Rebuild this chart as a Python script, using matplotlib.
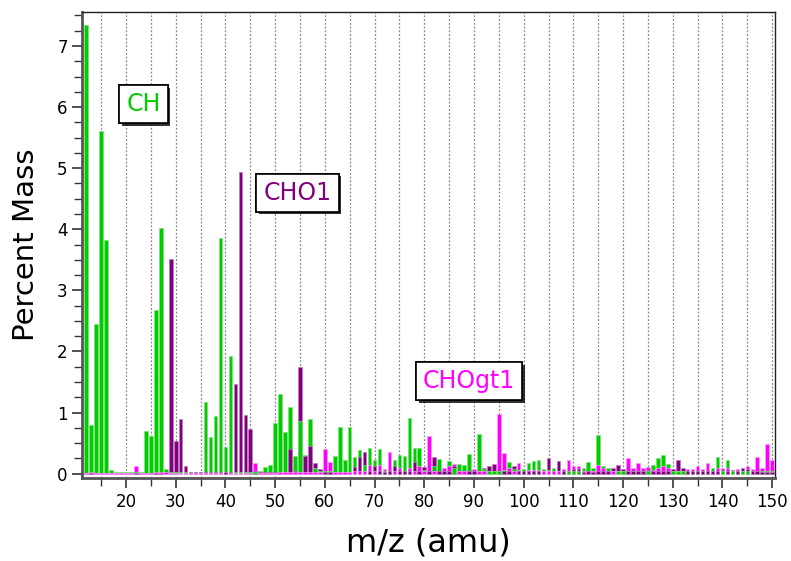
import matplotlib
matplotlib.use("Agg")
import matplotlib.pyplot as plt
import matplotlib.patheffects as pe
from matplotlib.ticker import MultipleLocator

# m/z values 12..150
mz = list(range(12, 151))

# percent mass, CH series (green)
ch = [7.35, 0.79, 2.45, 5.61, 3.82, 0.06, 0.03, 0.03, 0.03, 0.02,   # 12-21
      0.03, 0.02, 0.70, 0.62, 2.68, 4.02, 0.08, 0.03, 0.03, 0.03,   # 22-31
      0.03, 0.03, 0.03, 0.02, 1.18, 0.60, 0.95, 3.86, 0.43, 1.92,   # 32-41
      0.03, 0.03, 0.03, 0.03, 0.03, 0.04, 0.11, 0.15, 0.83, 1.30,   # 42-51
      0.68, 1.09, 0.29, 0.87, 0.31, 0.89, 0.10, 0.04, 0.04, 0.04,   # 52-61
      0.29, 0.77, 0.23, 0.76, 0.27, 0.38, 0.14, 0.42, 0.23, 0.40,   # 62-71
      0.04, 0.05, 0.23, 0.31, 0.29, 0.91, 0.42, 0.42, 0.06, 0.05,   # 72-81
      0.13, 0.24, 0.05, 0.20, 0.10, 0.16, 0.14, 0.33, 0.05, 0.65,   # 82-91
      0.08, 0.04, 0.04, 0.04, 0.06, 0.19, 0.08, 0.06, 0.08, 0.17,   # 92-101
      0.20, 0.23, 0.08, 0.06, 0.10, 0.05, 0.05, 0.04, 0.04, 0.05,   # 102-111
      0.10, 0.19, 0.10, 0.64, 0.12, 0.10, 0.05, 0.04, 0.04, 0.05,   # 112-121
      0.04, 0.04, 0.05, 0.05, 0.15, 0.26, 0.31, 0.16, 0.04, 0.04,   # 122-131
      0.04, 0.04, 0.04, 0.04, 0.04, 0.04, 0.10, 0.27, 0.04, 0.23,   # 132-141
      0.04, 0.04, 0.04, 0.04, 0.04, 0.04, 0.04, 0.04, 0.04]         # 142-150

# CHO1 series (purple)
cho1 = [0.01, 0.01, 0.01, 0.01, 0.01, 0.01, 0.01, 0.01, 0.01, 0.01,  # 12-21
        0.01, 0.01, 0.01, 0.01, 0.01, 0.01, 0.02, 3.52, 0.54, 0.89,  # 22-31
        0.12, 0.02, 0.02, 0.02, 0.02, 0.02, 0.02, 0.02, 0.02, 0.02,  # 32-41
        1.46, 4.93, 0.96, 0.73, 0.04, 0.02, 0.02, 0.02, 0.02, 0.02,  # 42-51
        0.02, 0.41, 0.05, 1.75, 0.29, 0.45, 0.17, 0.08, 0.03, 0.03,  # 52-61
        0.03, 0.03, 0.03, 0.03, 0.11, 0.28, 0.35, 0.05, 0.13, 0.05,  # 62-71
        0.03, 0.04, 0.12, 0.04, 0.04, 0.04, 0.19, 0.05, 0.11, 0.05,  # 72-81
        0.28, 0.04, 0.04, 0.05, 0.12, 0.05, 0.05, 0.04, 0.04, 0.05,  # 82-91
        0.10, 0.13, 0.16, 0.05, 0.05, 0.05, 0.13, 0.05, 0.04, 0.05,  # 92-101
        0.05, 0.04, 0.05, 0.25, 0.05, 0.21, 0.04, 0.05, 0.08, 0.08,  # 102-111
        0.03, 0.04, 0.03, 0.05, 0.04, 0.04, 0.10, 0.15, 0.08, 0.04,  # 112-121
        0.04, 0.04, 0.04, 0.06, 0.04, 0.04, 0.04, 0.04, 0.07, 0.23,  # 122-131
        0.10, 0.04, 0.04, 0.04, 0.04, 0.04, 0.04, 0.04, 0.06, 0.04,  # 132-141
        0.06, 0.04, 0.10, 0.08, 0.04, 0.04, 0.03, 0.03, 0.03]        # 142-150

# CHOgt1 series (magenta)
chogt1 = [0.01, 0.02, 0.01, 0.01, 0.01, 0.01, 0.01, 0.01, 0.01, 0.01,  # 12-21
          0.12, 0.01, 0.01, 0.01, 0.02, 0.02, 0.02, 0.01, 0.01, 0.01,  # 22-31
          0.01, 0.01, 0.01, 0.01, 0.01, 0.01, 0.01, 0.01, 0.03, 0.01,  # 32-41
          0.01, 0.01, 0.01, 0.01, 0.18, 0.01, 0.01, 0.01, 0.01, 0.02,  # 42-51
          0.02, 0.02, 0.02, 0.03, 0.03, 0.03, 0.03, 0.03, 0.40, 0.19,  # 52-61
          0.03, 0.03, 0.03, 0.03, 0.05, 0.05, 0.05, 0.14, 0.05, 0.15,  # 62-71
          0.08, 0.35, 0.05, 0.09, 0.05, 0.09, 0.05, 0.12, 0.05, 0.61,  # 72-81
          0.05, 0.05, 0.10, 0.12, 0.16, 0.05, 0.05, 0.05, 0.07, 0.05,  # 82-91
          0.05, 0.05, 0.05, 0.98, 0.34, 0.10, 0.05, 0.18, 0.05, 0.06,  # 92-101
          0.06, 0.06, 0.05, 0.05, 0.05, 0.05, 0.07, 0.23, 0.13, 0.12,  # 102-111
          0.05, 0.05, 0.05, 0.15, 0.10, 0.05, 0.05, 0.05, 0.05, 0.26,  # 112-121
          0.10, 0.17, 0.10, 0.11, 0.06, 0.09, 0.13, 0.10, 0.05, 0.05,  # 122-131
          0.05, 0.08, 0.08, 0.12, 0.08, 0.17, 0.05, 0.10, 0.10, 0.10,  # 132-141
          0.05, 0.07, 0.05, 0.13, 0.07, 0.28, 0.10, 0.48, 0.23]        # 142-150

series = [("CH", ch, "#00cc00", "#7fe07f"),
          ("CHO1", cho1, "#800080", "#c07fc0"),
          ("CHOgt1", chogt1, "#ff00ff", "#ff9cff")]

fig = plt.figure(figsize=(7.91, 5.61), dpi=100)
ax = fig.add_axes([0.104, 0.148, 0.876, 0.831])

for name, vals, col, edge in series:
    bars = ax.bar(mz, vals, width=0.72, color=col, edgecolor=edge, linewidth=0.5)
    # overlapped bars: shorter bar drawn in front
    for b, v in zip(bars, vals):
        b.set_zorder(3 - v / 10)

ax.set_xlim(11.2, 150.6)
ax.set_ylim(-0.07, 7.56)

ax.xaxis.set_major_locator(MultipleLocator(10))
ax.xaxis.set_minor_locator(MultipleLocator(5))
ax.yaxis.set_major_locator(MultipleLocator(1))
ax.yaxis.set_minor_locator(MultipleLocator(0.25))
ax.set_xticks(range(20, 151, 10))

ax.grid(True, axis="x", which="both", linestyle=(0, (1.5, 1.5)), color="#888888", linewidth=0.9, zorder=0)
ax.set_axisbelow(True)

ax.tick_params(axis="both", which="major", direction="out", length=7, width=1.2, labelsize=12, color="#333333")
ax.tick_params(axis="both", which="minor", direction="out", length=6, width=1.0, color="#333333")

for s in ["left", "bottom"]:
    ax.spines[s].set_linewidth(2)
    ax.spines[s].set_color("#555555")
for s in ["top", "right"]:
    ax.spines[s].set_linewidth(1)
    ax.spines[s].set_color("#222222")

ax.set_xlabel("m/z (amu)", fontsize=23, labelpad=12)
ax.set_ylabel("Percent Mass", fontsize=21, labelpad=12)

labels = [("CH", 23.5, 6.05, "#00cc00"),
          ("CHO1", 54.5, 4.6, "#800080"),
          ("CHOgt1", 89.0, 1.52, "#ff00ff")]
for txt, lx, ly, col in labels:
    t = ax.text(lx, ly, txt, color=col, fontsize=17, ha="center", va="center", zorder=10,
                bbox=dict(boxstyle="square,pad=0.3", fc="white", ec="black", lw=1.2))
    t.get_bbox_patch().set_path_effects([pe.withSimplePatchShadow(offset=(2, -2), shadow_rgbFace="black", alpha=0.8), pe.Normal()])

fig.savefig("out.png", dpi=100)
